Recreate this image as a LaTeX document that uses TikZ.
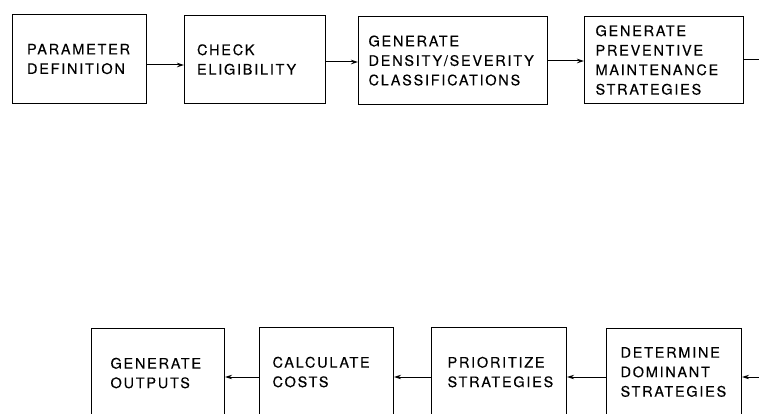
\documentclass[tikz,border=0pt]{standalone}
\usepackage{fontspec}
\setmainfont{TeX Gyre Heros}
\newfontfamily\labfont[LetterSpace=12,FakeBold=0.15]{TeX Gyre Heros}
\usetikzlibrary{arrows.meta}
\tikzset{
  box/.style={draw, line width=1.1pt, anchor=north west, align=left,
    font=\labfont\fontsize{14.5}{19.5}\selectfont, inner ysep=0pt},
  arr/.style={line width=1pt, -{Stealth[length=7pt,width=4.5pt]}},
}
\begin{document}
\begin{tikzpicture}[x=1pt,y=-1pt]
\clip (0,0) rectangle (759,414);
% top row
\node[box, minimum width=134, minimum height=89, inner xsep=14.5, text width=105] (b1) at (12,14) {PARAMETER\\DEFINITION};
\node[box, minimum width=141, minimum height=88, inner xsep=12.5, text width=116] (b2) at (184,15) {CHECK\\ELIGIBILITY};
\node[box, minimum width=189, minimum height=88, inner xsep=10, text width=169] (b3) at (358,16) {GENERATE\\DENSITY/SEVERITY\\CLASSIFICATIONS};
\node[box, minimum width=159, minimum height=87, inner xsep=11, text width=137] (b4) at (584,16) {GENERATE\\PREVENTIVE\\MAINTENANCE\\STRATEGIES};
% bottom row
\node[box, minimum width=133, minimum height=89, inner xsep=19, text width=95] (b5) at (91,328) {GENERATE\\OUTPUTS};
\node[box, minimum width=134, minimum height=89, inner xsep=13, text width=108] (b6) at (259,327) {CALCULATE\\COSTS};
\node[box, minimum width=135, minimum height=89, inner xsep=16, text width=103] (b7) at (431,327) {PRIORITIZE\\STRATEGIES};
\node[box, minimum width=135, minimum height=87, inner xsep=14, text width=107] (b8) at (606,328) {DETERMINE\\DOMINANT\\STRATEGIES};
% levels
\coordinate (y1) at (0,65);
\coordinate (y2) at (0,62);
\coordinate (y3) at (0,61);
\coordinate (outR) at (762,60);
\coordinate (inR) at (762,377);
\coordinate (yb) at (0,377);
% connectors
\draw[arr] (b1.east |- y1) -- (b2.west |- y1);
\draw[arr] (b2.east |- y2) -- (b3.west |- y2);
\draw[arr] (b3.east |- y3) -- (b4.west |- y3);
\draw[line width=1pt] (b4.east |- outR) -- (outR);
\draw[arr] (inR) -- (b8.east |- yb);
\draw[arr] (b8.west |- yb) -- (b7.east |- yb);
\draw[arr] (b7.west |- yb) -- (b6.east |- yb);
\draw[arr] (b6.west |- yb) -- (b5.east |- yb);
\end{tikzpicture}
\end{document}
